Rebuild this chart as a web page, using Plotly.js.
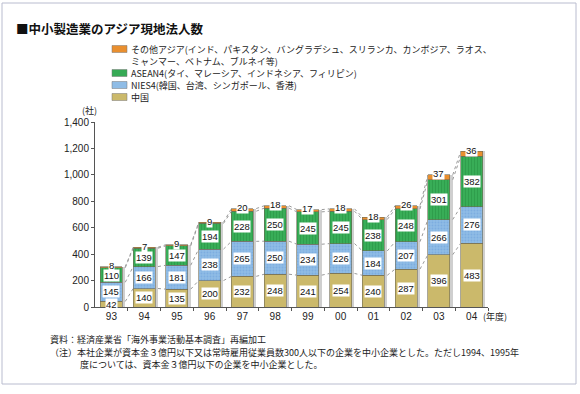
<!DOCTYPE html>
<html><head><meta charset="utf-8">
<script src="https://cdn.plot.ly/plotly-3.0.1.min.js"></script>
<style>html,body{margin:0;padding:0;background:#fff}#chart{width:580px;height:394px}</style>
</head><body><div id="chart"></div>
<script>
const years = ['93','94','95','96','97','98','99','00','01','02','03','04'];
const china  = [42,140,135,200,232,248,241,254,240,287,396,483];
const nies4  = [145,166,181,238,265,250,234,226,184,207,266,276];
const asean4 = [110,139,147,194,228,250,245,245,238,248,301,382];
const other  = [8,7,9,9,20,18,17,18,18,26,37,36];
const yTicks = [0,200,400,600,800,1000,1200,1400];

const names = ['中国','NIES4(韓国、台湾、シンガポール、香港)','ASEAN4(タイ、マレーシア、インドネシア、フィリピン)','その他アジア(インド、パキスタン、バングラデシュ、スリランカ、カンボジア、ラオス、ミャンマー、ベトナム、ブルネイ等)'];
const series = [china, nies4, asean4, other];
const colors = ['#cbb96b','#8fbce6','#36aa55','#e98f2f'];
const patterns = [
  null,
  {shape:'.', bgcolor:'#8fbce6', fgcolor:'#7dade0', size:3, solidity:0.3},
  {shape:'|', bgcolor:'#38ad57', fgcolor:'#2e9c4b', size:3, solidity:0.3},
  null
];
const idx = years.map((_, i) => i);
const W = 0.667;
const jp = '"Noto Sans CJK JP", "Noto Sans", sans-serif';

// cumulative levels
const cum = [];
let run = idx.map(() => 0);
series.forEach(s => { run = run.map((r, i) => r + s[i]); cum.push(run.slice()); });
const totals = cum[3];

const traces = [];
// shadow
traces.push({type:'bar', x: idx.map(i => i + 0.09), y: totals, width: W,
  marker:{color:'#cfcfcf'}, hoverinfo:'skip', showlegend:false});
series.forEach((s, k) => {
  const m = {color: colors[k], line:{color:'#6f6a55', width:0.6}};
  if (patterns[k]) m.pattern = patterns[k];
  traces.push({type:'bar', name: names[k], x: idx, y: s, width: W, marker: m, showlegend:false});
});
// dotted connectors
cum.forEach(level => {
  const xs = [], ys = [];
  for (let i = 0; i < idx.length - 1; i++) {
    xs.push(i + W/2 + 0.09, i + 1 - W/2, null);
    ys.push(level[i], level[i+1], null);
  }
  traces.push({type:'scatter', mode:'lines', x: xs, y: ys, hoverinfo:'skip', showlegend:false,
    line:{color:'#9a9a9a', width:1, dash:'dot'}});
});

// plot area geometry (px)
const L = 95, R = 488, T = 122, B = 307;
const px = v => (v - L) / (R - L);
const py = v => (B - v) / (B - T);

const ann = [];
series.forEach((s, k) => {
  s.forEach((v, i) => {
    const base = k === 0 ? 0 : cum[k-1][i];
    const isTop = k === 3;
    ann.push({x: i, y: isTop ? cum[k][i] : base + v / 2, xref:'x', yref:'y', text: String(v), showarrow:false,
      yshift: isTop ? 1 : 0,
      font:{family:'Arial, "Liberation Sans", sans-serif', size:9.5, color:'#111'},
      bgcolor:'#ffffff', borderpad:0, xanchor:'center', yanchor:'middle'});
  });
});
const txt = (x, y, t, size, opts) => Object.assign({x: px(x), y: py(y), xref:'paper', yref:'paper',
  text: t, showarrow:false, xanchor:'left', yanchor:'middle',
  font:{family: jp, size: size, color:'#222'}}, opts || {});

ann.push(txt(14, 28, '<b>■中小製造業のアジア現地法人数</b>', 12.5, {font:{family:jp, size:12.5, color:'#111'}}));
// legend
const legRows = [
  {y:49, t:'その他アジア(インド、パキスタン、バングラデシュ、スリランカ、カンボジア、ラオス、', c:3},
  {y:61, t:'ミャンマー、ベトナム、ブルネイ等)', c:-1},
  {y:73, t:'ASEAN4(タイ、マレーシア、インドネシア、フィリピン)', c:2},
  {y:85, t:'NIES4(韓国、台湾、シンガポール、香港)', c:1},
  {y:97, t:'中国', c:0}
];
const shapes = [];
legRows.forEach(r => {
  ann.push(txt(129, r.y, r.t, 9));
  if (r.c >= 0) shapes.push({type:'rect', xref:'paper', yref:'paper', x0: px(112), x1: px(127),
    y0: py(r.y + 3.5), y1: py(r.y - 3.5), fillcolor: colors[r.c], line:{color:'#777', width:0.5}});
});
ann.push(txt(89, 110, '(社)', 9, {xanchor:'center'}));
ann.push(txt(481, 316, '(年度)', 9));
ann.push(txt(48, 339, '資料：経済産業省「海外事業活動基本調査」再編加工', 9));
ann.push(txt(48, 352, '（注）本社企業が資本金３億円以下又は常時雇用従業員数300人以下の企業を中小企業とした。ただし1994、1995年', 9));
ann.push(txt(78, 364, '度については、資本金３億円以下の企業を中小企業とした。', 9));

// outer frame
shapes.push({type:'rect', xref:'paper', yref:'paper', x0: px(2), x1: px(576), y0: py(384), y1: py(3),
  line:{color:'#b9bccf', width:1}, fillcolor:'rgba(0,0,0,0)', layer:'below'});

const layout = {
  width:580, height:394,
  margin:{l:L, r:580-R, t:T, b:394-B, pad:0},
  paper_bgcolor:'#ffffff', plot_bgcolor:'#ffffff',
  barmode:'stack', showlegend:false,
  font:{family: jp, size:9, color:'#222'},
  xaxis:{range:[-0.5, years.length - 0.5], tickmode:'array', tickvals: idx, ticktext: years,
    showgrid:false, zeroline:false, showline:true, linecolor:'#555', linewidth:1, ticks:'',
    tickfont:{family:'Arial, "Liberation Sans", sans-serif', size:10, color:'#222'},
    minor:{tickmode:'array', tickvals: idx.map(i => i + 0.5), ticks:'outside', ticklen:3, tickcolor:'#555', showgrid:false}},
  yaxis:{range:[0,1400], tickmode:'array', tickvals: yTicks, ticktext: yTicks.map(v => v.toLocaleString('en-US')),
    showgrid:false, zeroline:false, showline:true, linecolor:'#555', linewidth:1, ticks:'outside', ticklen:3, tickcolor:'#555',
    tickfont:{family:'Arial, "Liberation Sans", sans-serif', size:10, color:'#222'}},
  annotations: ann, shapes: shapes
};
Plotly.newPlot('chart', traces, layout, {staticPlot:true});
</script></body></html>
